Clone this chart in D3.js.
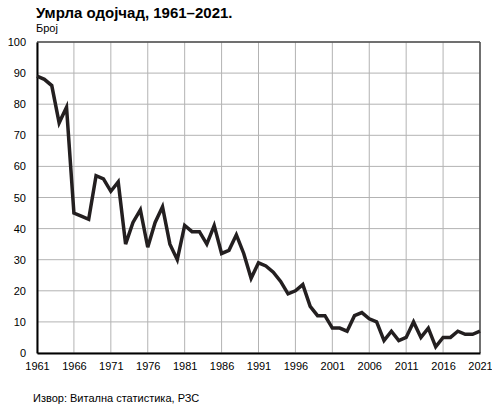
<!DOCTYPE html>
<html>
<head>
<meta charset="utf-8">
<script src="https://cdn.jsdelivr.net/npm/d3@7"></script>
<style>
body { margin: 0; background: #fff; }
text { font-family: "Liberation Sans", Arial, sans-serif; fill: #000; }
</style>
</head>
<body>
<svg id="chart"></svg>
<script>
// years and infant deaths
var years = d3.range(1961, 2022);
var deaths = [89, 88, 86, 74, 79, 45, 44, 43, 57, 56,
              52, 55, 35, 42, 46, 34, 42, 47, 35, 30,
              41, 39, 39, 35, 41, 32, 33, 38, 32, 24,
              29, 28, 26, 23, 19, 20, 22, 15, 12, 12,
              8, 8, 7, 12, 13, 11, 10, 4, 7, 4,
              5, 10, 5, 8, 2, 5, 5, 7, 6, 6, 7];
var xTicks = [1961, 1966, 1971, 1976, 1981, 1986, 1991, 1996, 2001, 2006, 2011, 2016, 2021];
var yTicks = [0, 10, 20, 30, 40, 50, 60, 70, 80, 90, 100];

var screen = {width: 492, height: 408};
var margins = {top: 42, bottom: 55, left: 37, right: 12};
var graph = {
    width: screen.width - margins.left - margins.right,
    height: screen.height - margins.top - margins.bottom
};

var svg = d3.select("#chart")
    .attr("width", screen.width)
    .attr("height", screen.height);

var xScale = d3.scaleLinear()
    .domain([1961, 2021])
    .range([0, graph.width]);

var yScale = d3.scaleLinear()
    .domain([0, 100])
    .range([graph.height, 0]);

var g = svg.append("g")
    .attr("transform", "translate(" + margins.left + "," + margins.top + ")");

// grid lines
g.append("g")
    .selectAll("line.h")
    .data(yTicks)
    .enter()
    .append("line")
    .attr("x1", 0).attr("x2", graph.width)
    .attr("y1", function(d) { return yScale(d); })
    .attr("y2", function(d) { return yScale(d); })
    .attr("stroke", "#b3b3b3")
    .attr("stroke-width", 1);

g.append("g")
    .selectAll("line.v")
    .data(xTicks)
    .enter()
    .append("line")
    .attr("y1", 0).attr("y2", graph.height)
    .attr("x1", function(d) { return xScale(d); })
    .attr("x2", function(d) { return xScale(d); })
    .attr("stroke", "#b3b3b3")
    .attr("stroke-width", 1);

// frame: top and right grey, left and bottom black
g.append("line")
    .attr("x1", 0).attr("x2", graph.width)
    .attr("y1", 0).attr("y2", 0)
    .attr("stroke", "#4d4d4d").attr("stroke-width", 1.5);
g.append("line")
    .attr("x1", graph.width).attr("x2", graph.width)
    .attr("y1", 0).attr("y2", graph.height)
    .attr("stroke", "#4d4d4d").attr("stroke-width", 1.5);

// axes
var xAxis = d3.axisBottom(xScale)
    .tickValues(xTicks)
    .tickFormat(d3.format("d"))
    .tickSize(0)
    .tickPadding(9);
var yAxis = d3.axisLeft(yScale)
    .tickValues(yTicks)
    .tickSize(0)
    .tickPadding(11);

g.append("g")
    .attr("transform", "translate(0," + graph.height + ")")
    .call(xAxis)
    .call(function(a) {
        a.select(".domain").attr("stroke", "#000").attr("stroke-width", 2);
        a.selectAll("text").style("font-size", "11px");
    });

g.append("g")
    .call(yAxis)
    .call(function(a) {
        a.select(".domain").attr("stroke", "#000").attr("stroke-width", 2);
        a.selectAll("text").style("font-size", "11px");
    });

// the line
var line = d3.line()
    .x(function(d, i) { return xScale(years[i]); })
    .y(function(d) { return yScale(d); });

g.append("path")
    .datum(deaths)
    .attr("d", line)
    .attr("fill", "none")
    .attr("stroke", "#231f20")
    .attr("stroke-width", 3.5)
    .attr("stroke-linejoin", "miter");

// titles
svg.append("text")
    .text("Умрла одојчад, 1961–2021.")
    .attr("x", 36)
    .attr("y", 18)
    .style("font-size", "15px")
    .style("font-weight", "bold");

svg.append("text")
    .text("Број")
    .attr("x", 36)
    .attr("y", 32)
    .style("font-size", "11px");

svg.append("text")
    .text("Извор: Витална статистика, РЗС")
    .attr("x", 33)
    .attr("y", 402)
    .style("font-size", "11px");
</script>
</body>
</html>
